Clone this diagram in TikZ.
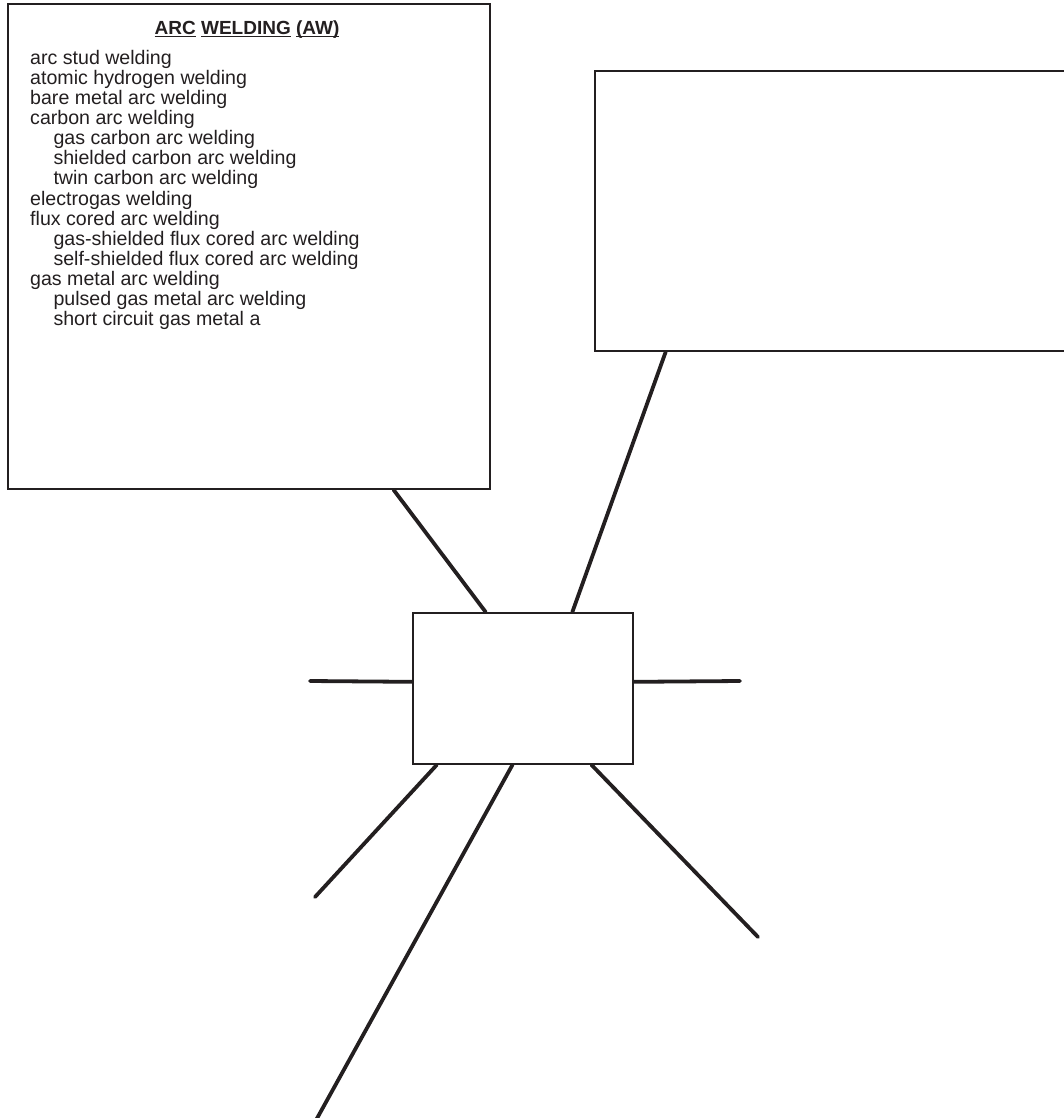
\documentclass[tikz,border=0pt]{standalone}
\usepackage{fontspec}
\setmainfont{Liberation Sans}
\usetikzlibrary{calc,backgrounds}
\definecolor{ink}{RGB}{35,31,32}
\tikzset{
  box/.style={draw=ink, line width=1.8pt, fill=white, rectangle, inner sep=0pt},
  conn/.style={draw=ink, line width=3.8pt, line cap=round},
  item/.style={anchor=base west, inner sep=0pt, text=ink, font=\fontsize{19.6}{20}\selectfont},
  heading/.style={anchor=base, inner sep=0pt, text=ink, font=\fontsize{19}{20}\selectfont\bfseries}
}
\begin{document}
\begin{tikzpicture}[x=1pt,y=-1pt]
\useasboundingbox (0,0) rectangle (1063,1118);
% free ends
\coordinate (eL) at (310,681);
\coordinate (eR) at (740,681);
\coordinate (eBL) at (315,897);
\coordinate (eBM) at (315,1122);
\coordinate (eBR) at (758,937);
% boxes
\path (7,3) node[box, anchor=north west, minimum width=482pt, minimum height=485pt] (aw) {};
\path (594,70) node[box, anchor=north west, minimum width=480pt, minimum height=280pt] (rb) {};
\path (412,612) node[box, anchor=north west, minimum width=220pt, minimum height=151pt] (hub) {};
% connectors behind the boxes
\begin{scope}[on background layer]
\draw[conn] ($(aw.south west)!0.799!(aw.south east)$) -- ($(hub.north west)!0.332!(hub.north east)$);
\draw[conn] ($(rb.south west)+(71.7pt,0)$) -- ($(hub.north west)!0.723!(hub.north east)$);
\draw[conn] (eL) -- ($(hub.north west)!0.457!(hub.south west)$);
\draw[conn] (eR) -- ($(hub.north east)!0.457!(hub.south east)$);
\draw[conn] (eBL) -- ($(hub.south west)!0.112!(hub.south east)$);
\draw[conn] (eBM) -- ($(hub.south west)!0.453!(hub.south east)$);
\draw[conn] (eBR) -- ($(hub.south west)!0.809!(hub.south east)$);
\end{scope}
% text
\node[heading] (title) at (247,35) {\underline{\smash{ARC}} \underline{\smash{WELDING}} \underline{\smash{(AW)}}};
\foreach \t/\x [count=\i] in {
  arc stud welding/30,
  atomic hydrogen welding/30,
  bare metal arc welding/30,
  carbon arc welding/30,
  gas carbon arc welding/53.3,
  shielded carbon arc welding/53.3,
  twin carbon arc welding/53.3,
  electrogas welding/30,
  flux cored arc welding/30,
  gas-shielded flux cored arc welding/53.3,
  self-shielded flux cored arc welding/53.3,
  gas metal arc welding/30,
  pulsed gas metal arc welding/53.3,
  short circuit gas metal a/53.3}
  \node[item] (l\i) at (\x, 45+20*\i) {\t};
\end{tikzpicture}
\end{document}
